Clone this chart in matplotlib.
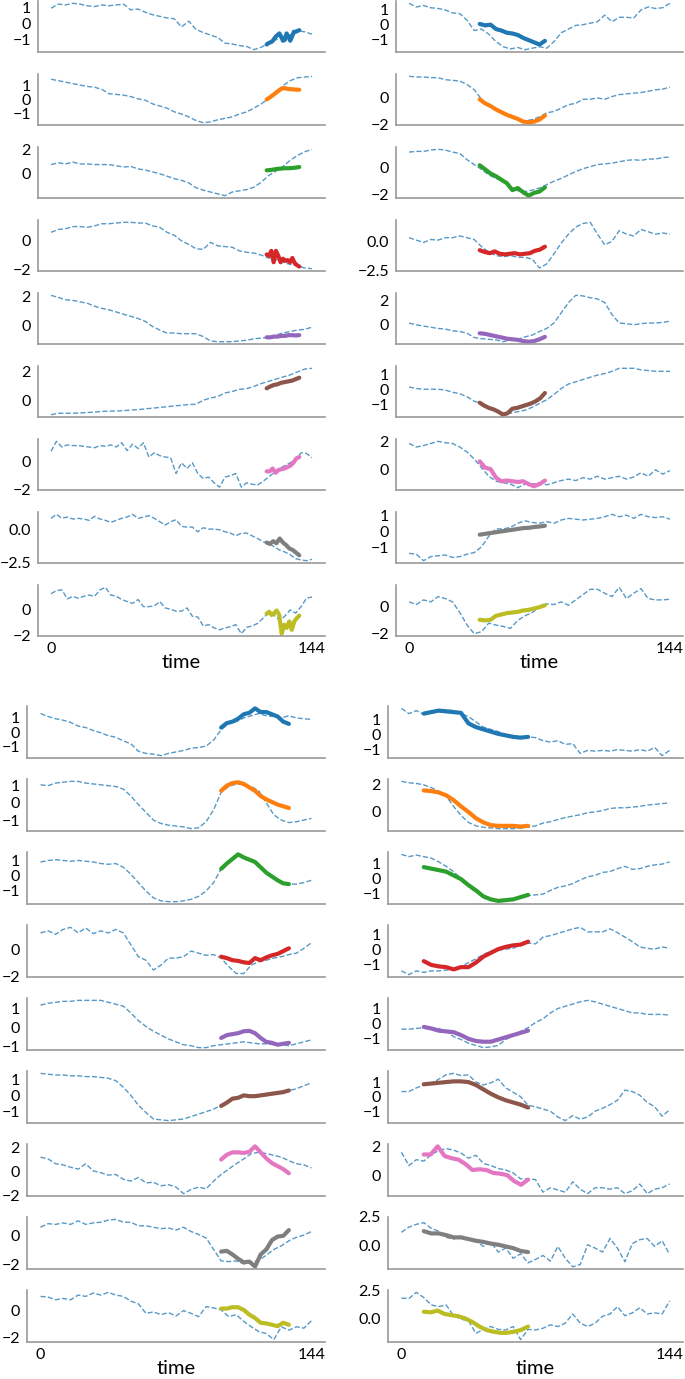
import numpy as np
import matplotlib
matplotlib.use("Agg")
import matplotlib.pyplot as plt

plt.rcParams['font.family'] = ['Lato', 'DejaVu Sans']

T_END = 144
SEG_COLORS = ['#1f77b4', '#ff7f0e', '#2ca02c', '#d62728', '#9467bd',
              '#8c564b', '#e377c2', '#7f7f7f', '#bcbd22']

# ---------------- top-left group ----------------
tl_series = [
    [0.95,1.2,1.15,1.25,1.2,1.1,1.05,1.15,1.1,1.15,1.2,0.85,0.9,0.7,0.55,0.45,0.35,0.3,-0.2,0.15,-0.35,-0.55,-0.7,-0.85,-1.2,-1.25,-1.35,-1.4,-1.6,-1.45,-1.2,-1.0,-0.8,-0.7,-0.45,-0.5,-0.65],
    [1.4,1.3,1.2,1.1,1.0,0.9,0.85,0.7,0.4,0.35,0.3,0.2,0.05,-0.05,-0.3,-0.45,-0.6,-0.85,-1.0,-1.2,-1.45,-1.6,-1.55,-1.4,-1.3,-1.2,-1.0,-0.85,-0.6,-0.3,0.05,0.5,0.95,1.3,1.5,1.55,1.6],
    [0.75,0.9,0.8,0.95,0.8,0.8,0.75,0.75,0.75,0.65,0.55,0.6,0.4,0.3,0.15,0.0,-0.2,-0.4,-0.55,-0.75,-1.15,-1.35,-1.5,-1.65,-1.8,-1.5,-1.4,-1.3,-1.1,-0.7,-0.15,0.2,0.6,1.1,1.5,1.8,2.0],
    [0.6,0.8,0.85,1.0,1.0,0.95,1.05,1.2,1.2,1.25,1.3,1.3,1.25,1.25,1.05,0.95,0.6,0.4,0.0,-0.25,-0.55,-0.6,-0.1,-0.35,-0.4,-0.45,-0.7,-0.8,-0.85,-1.0,-1.2,-1.3,-1.5,-1.65,-1.75,-1.9,-1.95],
    [2.05,1.9,1.75,1.7,1.6,1.5,1.3,1.15,1.05,0.9,0.75,0.6,0.45,0.25,-0.1,-0.35,-0.55,-0.55,-0.6,-0.6,-0.6,-0.8,-1.1,-1.15,-1.15,-1.15,-1.1,-1.05,-0.95,-0.9,-0.85,-0.7,-0.55,-0.45,-0.35,-0.3,-0.15],
    [-1.0,-0.9,-0.9,-0.9,-0.88,-0.85,-0.82,-0.78,-0.75,-0.75,-0.72,-0.68,-0.65,-0.6,-0.55,-0.5,-0.45,-0.4,-0.35,-0.3,-0.28,0.0,0.15,0.25,0.5,0.6,0.75,0.8,0.95,1.15,1.3,1.45,1.6,1.75,1.95,2.15,2.2],
    [0.7,1.4,1.0,1.15,1.1,1.1,1.05,1.0,0.95,1.1,1.05,1.15,1.0,1.3,0.75,1.2,0.9,1.3,0.3,0.6,0.4,0.3,0.25,-0.85,-0.1,-0.5,-0.1,-0.85,-1.2,-1.1,-1.5,-1.8,-1.1,-1.0,-0.85,-1.8,-1.5,-1.6,-1.65,-1.4,-1.1,-0.8,-0.5,-0.3,-0.1,0.1,0.6,0.55,0.25],
    [0.8,1.1,0.8,0.9,0.75,0.8,0.75,0.65,0.95,0.75,0.65,0.5,0.65,0.8,0.9,1.1,0.8,0.9,1.0,0.8,0.55,0.3,0.55,0.7,0.2,0.15,0.15,-0.2,0.1,0.0,0.0,-0.05,-0.2,-0.3,-0.5,-0.3,-0.3,-0.5,-0.7,-0.95,-1.05,-1.3,-1.55,-1.7,-1.9,-2.2,-2.3,-2.35,-2.25],
    [1.25,1.5,1.55,0.85,1.05,0.9,1.05,1.15,1.05,1.55,1.75,1.15,1.05,0.8,0.65,0.5,0.8,0.25,0.25,0.3,0.65,0.15,0.05,-0.1,-0.1,0.15,-0.5,-0.55,-1.25,-1.15,-1.4,-1.55,-1.4,-1.3,-1.15,-1.85,-1.35,-1.25,-1.05,-0.65,-0.25,-0.4,-0.8,-0.5,0.0,-0.25,0.25,0.9,1.0],
]
tl_segments = [
    [-1.28,-1.2,-1.15,-1.1,-0.95,-0.8,-0.7,-0.6,-0.8,-1.05,-1.0,-0.6,-0.8,-1.05,-0.8,-0.5,-0.5,-0.45,-0.4],
    [0.0,0.08,0.17,0.26,0.35,0.45,0.55,0.65,0.72,0.78,0.78,0.75,0.72,0.72,0.7,0.7,0.68,0.68,0.67],
    [0.28,0.3,0.35,0.4,0.42,0.45,0.45,0.47,0.5,0.55],
    [-0.95,-1.05,-0.7,-1.5,-0.7,-1.05,-1.5,-1.25,-1.4,-1.35,-1.5,-1.2,-1.55,-1.7,-1.8],
    [-0.85,-0.85,-0.8,-0.8,-0.75,-0.75,-0.7,-0.7,-0.72,-0.7],
    [0.82,0.95,1.05,1.1,1.2,1.25,1.3,1.35,1.45,1.55],
    [-0.7,-0.7,-0.5,-0.8,-0.6,-0.55,-0.5,-0.4,-0.3,-0.1,0.2,0.3],
    [-1.0,-1.1,-0.9,-1.05,-0.7,-1.0,-1.2,-1.45,-1.55,-1.75,-1.95],
    [-0.3,-0.15,-0.4,-0.25,-0.05,-0.4,-1.85,-1.15,-1.4,-0.9,-1.55,-0.9,-0.65,-0.45],
]
tl_seg_span = (119, 137)
tl_yticks = [[-1,0,1],[-1,0,1],[0,2],[-2,0],[0,2],[0,2],[-2,0],[-2.5,0.0],[-2,0]]

# ---------------- top-right group ----------------
tr_series = [
    [1.45,1.2,1.3,1.15,1.1,1.0,0.8,0.75,0.3,-0.4,-0.3,-0.65,-1.15,-1.5,-1.65,-1.55,-1.7,-1.6,-1.5,-1.6,-1.15,-0.55,-0.3,-0.05,0.0,0.1,0.2,0.65,0.2,0.5,0.5,0.45,1.0,1.2,1.1,1.15,1.45],
    [1.6,1.55,1.55,1.5,1.5,1.35,1.3,1.25,1.0,0.6,-0.1,-0.55,-0.9,-1.2,-1.4,-1.6,-1.7,-1.6,-1.4,-1.1,-1.0,-0.75,-0.5,-0.4,-0.1,-0.1,0.0,-0.1,0.1,0.25,0.3,0.35,0.4,0.5,0.6,0.65,0.8],
    [1.1,1.15,1.15,1.25,1.3,1.25,1.1,1.0,0.55,0.2,-0.15,-0.55,-0.8,-1.0,-1.4,-1.7,-1.75,-1.65,-1.5,-1.25,-1.0,-0.8,-0.55,-0.3,-0.1,0.05,0.2,0.25,0.3,0.4,0.5,0.55,0.5,0.6,0.6,0.7,0.75],
    [0.3,0.1,-0.1,0.15,0.1,0.3,0.3,0.45,0.3,0.15,-0.45,-0.9,-1.2,-1.3,-1.2,-1.35,-1.35,-1.5,-2.25,-1.9,-1.05,-0.15,0.6,1.2,1.5,1.6,0.6,-0.3,0.0,0.9,0.6,0.45,1.0,0.8,0.6,0.7,0.6],
    [0.1,-0.05,-0.15,-0.25,-0.35,-0.4,-0.55,-0.6,-0.75,-1.1,-1.2,-1.25,-1.3,-1.45,-1.3,-1.25,-1.05,-0.9,-0.6,-0.35,0.1,0.95,1.8,2.4,2.35,2.2,2.1,1.8,0.8,0.1,0.05,-0.05,0.05,0.1,0.1,0.15,0.25],
    [0.15,0.05,0.0,0.0,0.0,-0.05,-0.2,-0.3,-0.5,-0.8,-0.95,-1.2,-1.4,-1.6,-1.6,-1.5,-1.4,-1.2,-0.95,-0.7,-0.35,0.05,0.35,0.5,0.65,0.8,0.95,1.05,1.2,1.4,1.4,1.4,1.3,1.25,1.2,1.2,1.2],
    [1.85,1.6,1.7,1.85,2.0,1.9,1.85,1.6,1.25,0.75,0.15,-0.45,-0.8,-0.9,-1.0,-1.25,-1.0,-1.0,-0.9,-1.05,-0.9,-0.75,-0.65,-0.75,-0.55,-0.65,-0.45,-0.65,-0.55,-0.45,-0.65,-0.5,-0.2,-0.45,0.0,-0.3,-0.05],
    [-1.35,-1.4,-1.8,-1.55,-1.5,-1.45,-1.6,-1.55,-1.4,-1.3,-0.95,-0.3,0.15,0.15,0.25,0.5,0.65,0.55,0.5,0.6,0.5,0.7,0.8,0.75,0.7,0.75,0.8,0.9,1.05,0.9,1.0,0.8,1.05,0.9,0.85,0.9,0.75],
    [0.35,0.15,0.5,0.35,0.75,0.6,0.35,-0.45,-1.4,-2.05,-1.9,-1.25,-1.4,-1.5,-1.65,-1.05,-0.7,-0.45,-0.05,0.2,0.15,0.35,0.1,0.5,0.9,1.3,1.3,1.0,0.75,1.45,0.6,1.0,1.35,0.6,0.5,0.5,0.55],
]
tr_segments = [
    [0.05,-0.05,0.0,-0.3,-0.4,-0.55,-0.6,-0.7,-0.9,-1.05,-1.2,-1.35,-1.1],
    [-0.1,-0.4,-0.6,-0.85,-1.05,-1.25,-1.4,-1.55,-1.75,-1.8,-1.75,-1.6,-1.3],
    [0.15,-0.15,-0.45,-0.65,-0.9,-1.15,-1.65,-1.5,-1.8,-2.05,-1.85,-1.75,-1.45],
    [-0.75,-0.9,-1.0,-0.85,-1.05,-1.1,-1.05,-1.0,-1.1,-1.05,-1.0,-0.8,-0.7,-0.45],
    [-0.75,-0.8,-0.9,-1.0,-1.1,-1.2,-1.25,-1.3,-1.4,-1.45,-1.4,-1.25,-1.05],
    [-0.9,-1.1,-1.25,-1.35,-1.5,-1.7,-1.6,-1.3,-1.25,-1.15,-1.05,-0.95,-0.8,-0.6,-0.25],
    [0.6,0.15,0.05,-0.55,-0.8,-0.75,-0.8,-0.85,-0.8,-1.0,-1.15,-1.0,-0.75],
    [-0.2,-0.15,-0.1,-0.05,0.0,0.05,0.1,0.15,0.2,0.22,0.27,0.3,0.35],
    [-1.0,-1.05,-1.0,-0.7,-0.6,-0.5,-0.45,-0.4,-0.3,-0.25,-0.15,-0.05,0.1],
]
tr_seg_span = (39, 75)
tr_yticks = [[-1,0,1],[-2,0],[-2,0],[-2.5,0.0],[0,2],[-1,0,1],[0,2],[-1,0,1],[-2,0]]

# ---------------- bottom-left group ----------------
bl_series = [
    [1.25,1.05,0.9,0.8,0.65,0.4,0.3,0.1,-0.05,-0.25,-0.35,-0.6,-0.8,-1.3,-1.45,-1.5,-1.6,-1.45,-1.35,-1.25,-1.1,-1.05,-0.95,-0.55,0.15,0.6,0.7,0.95,1.1,1.25,1.1,1.05,0.95,1.1,0.95,0.9,0.85],
    [1.05,1.0,1.15,1.2,1.25,1.25,1.15,1.1,1.05,1.0,0.95,0.8,0.4,-0.1,-0.55,-1.0,-1.2,-1.3,-1.35,-1.4,-1.5,-1.45,-1.1,-0.4,0.6,0.95,1.1,1.05,0.95,0.7,0.0,-0.7,-1.0,-1.15,-1.1,-1.0,-0.9],
    [0.9,1.0,1.05,1.0,0.95,1.0,0.95,0.9,0.8,0.75,0.8,0.55,0.1,-0.45,-1.0,-1.45,-1.65,-1.7,-1.7,-1.65,-1.55,-1.35,-1.0,-0.45,0.45,0.95,1.35,1.2,1.0,0.65,0.2,-0.1,-0.45,-0.55,-0.55,-0.45,-0.3],
    [1.15,1.3,1.05,1.4,1.55,1.15,1.5,1.1,1.3,1.15,1.4,1.15,0.3,-0.55,-0.8,-1.5,-1.15,-0.65,-0.65,-0.55,-0.15,-0.3,-0.45,-0.4,-0.65,-1.25,-1.75,-1.75,-1.15,-0.9,-0.8,-0.65,-0.55,-0.4,-0.3,0.05,0.45],
    [1.15,1.25,1.3,1.35,1.35,1.4,1.4,1.4,1.4,1.3,1.2,1.1,0.75,0.35,0.05,-0.2,-0.4,-0.6,-0.75,-0.9,-0.95,-1.05,-1.05,-0.95,-0.9,-0.85,-0.8,-0.75,-0.8,-0.85,-0.85,-0.9,-0.9,-0.95,-0.85,-0.75,-0.65],
    [1.35,1.3,1.25,1.25,1.2,1.2,1.15,1.15,1.1,1.05,0.9,0.5,0.0,-0.6,-1.05,-1.45,-1.5,-1.55,-1.5,-1.45,-1.3,-1.15,-1.0,-0.85,-0.6,-0.4,-0.2,-0.05,-0.05,-0.05,0.0,0.1,0.15,0.3,0.4,0.6,0.75],
    [1.2,1.05,0.65,0.55,0.35,0.2,0.65,0.05,-0.1,-0.3,-0.25,-0.65,-0.8,-0.5,-0.95,-0.9,-1.2,-1.1,-1.3,-1.85,-1.5,-1.3,-1.45,-0.8,-0.25,0.2,0.65,1.05,1.5,1.6,1.5,1.35,1.2,0.9,0.65,0.55,0.3],
    [0.6,0.85,0.8,0.9,0.8,1.05,0.8,0.9,0.95,1.1,1.15,0.95,0.95,0.7,0.7,0.6,0.5,0.55,0.4,0.6,0.3,0.1,-0.15,-0.95,-1.75,-1.8,-1.75,-1.95,-1.85,-1.7,-1.35,-0.95,-0.7,-0.35,-0.1,0.05,0.3],
    [1.05,1.0,0.8,0.9,0.8,1.15,1.05,1.3,1.15,1.35,1.15,1.05,0.7,0.5,-0.2,-0.1,-0.3,-0.15,-0.4,0.0,-0.2,-0.45,0.3,0.2,0.05,-0.45,-0.3,-0.8,-1.2,-1.55,-1.7,-2.15,-1.2,-1.45,-1.2,-1.3,-0.75],
]
bl_segments = [
    [0.3,0.6,0.7,0.9,1.2,1.3,1.6,1.35,1.35,1.2,1.05,0.7,0.55],
    [0.7,1.0,1.15,1.2,1.1,0.9,0.7,0.4,0.2,0.05,-0.1,-0.2,-0.3],
    [0.45,0.8,1.1,1.4,1.2,1.05,0.9,0.55,0.2,-0.05,-0.3,-0.5,-0.55],
    [-0.55,-0.65,-0.8,-0.85,-0.95,-1.0,-0.65,-0.8,-0.6,-0.45,-0.35,-0.15,0.05],
    [-0.55,-0.4,-0.35,-0.3,-0.2,-0.18,-0.3,-0.55,-0.75,-0.8,-0.9,-0.85,-0.8],
    [-0.65,-0.45,-0.2,-0.15,0.0,-0.05,-0.05,0.0,0.05,0.1,0.15,0.2,0.3],
    [1.0,1.4,1.6,1.6,1.55,1.65,2.1,1.6,1.1,0.7,0.45,0.2,-0.15],
    [-1.1,-1.05,-1.3,-1.6,-1.85,-1.8,-2.15,-1.3,-0.95,-0.3,-0.05,0.0,0.4],
    [0.15,0.15,0.25,0.25,0.05,-0.3,-0.55,-0.9,-0.95,-1.05,-1.15,-0.9,-1.05],
]
bl_seg_span = (96, 132)
bl_yticks = [[-1,0,1],[-1,0,1],[-1,0,1],[-2,0],[-1,0,1],[-1,0,1],[-2,0,2],[-2,0],[-2,0]]

# ---------------- bottom-right group ----------------
br_series = [
    [1.75,1.4,1.6,1.35,1.6,1.6,1.65,1.6,1.4,1.2,0.85,0.5,0.35,0.2,0.0,-0.1,-0.15,-0.15,-0.2,-0.4,-0.5,-0.4,-0.65,-0.6,-1.25,-1.05,-1.1,-1.05,-1.1,-1.0,-1.05,-1.1,-1.0,-1.1,-0.85,-1.4,-1.05],
    [2.2,2.1,2.05,1.95,1.75,1.5,1.15,0.4,-0.25,-0.75,-1.0,-1.1,-1.15,-1.2,-1.2,-1.2,-1.15,-1.1,-1.0,-0.8,-0.7,-0.55,-0.4,-0.3,-0.2,-0.05,0.0,0.1,0.25,0.3,0.3,0.35,0.4,0.5,0.55,0.6,0.65],
    [1.6,1.45,1.55,1.45,1.35,1.1,0.8,0.45,0.0,-0.55,-0.9,-1.2,-1.45,-1.55,-1.5,-1.4,-1.25,-1.15,-1.1,-1.05,-0.8,-0.6,-0.5,-0.35,-0.1,0.1,0.2,0.4,0.45,0.65,0.8,0.6,0.65,0.8,0.9,0.95,1.1],
    [-1.4,-1.65,-1.4,-1.5,-1.4,-1.4,-1.35,-1.3,-1.1,-0.85,-0.6,-0.3,-0.1,0.0,0.05,0.1,0.35,0.45,0.4,0.85,0.95,1.1,1.25,1.4,1.5,1.2,1.2,1.2,1.4,1.15,0.85,0.55,0.2,0.1,0.05,0.2,0.1],
    [-0.4,-0.4,-0.35,-0.3,-0.35,-0.35,-0.55,-0.9,-1.1,-1.35,-1.5,-1.65,-1.6,-1.5,-1.1,-0.85,-0.55,-0.3,0.05,0.3,0.7,1.0,1.15,1.3,1.45,1.55,1.45,1.3,1.15,1.0,0.85,0.7,0.7,0.6,0.6,0.6,0.55],
    [0.35,0.35,0.6,0.8,0.9,1.2,1.5,1.6,1.45,1.5,1.0,0.8,0.95,1.2,0.6,0.3,0.0,-0.6,-0.7,-0.85,-1.0,-1.4,-1.65,-1.3,-1.55,-1.4,-1.0,-0.8,-0.55,-0.25,0.45,0.35,0.1,-0.4,-0.7,-1.35,-0.9],
    [1.6,0.7,1.1,1.0,1.45,1.7,1.85,1.75,1.55,1.2,1.4,0.85,0.7,0.5,0.4,0.2,-0.2,-0.2,-0.25,-1.1,-0.8,-0.95,-1.1,-0.4,-0.9,-1.2,-0.8,-0.8,-0.9,-0.8,-1.2,-1.0,-0.55,-1.2,-0.9,-0.8,-0.55],
    [1.15,1.6,1.85,2.0,1.5,1.25,0.7,0.55,0.8,0.55,0.4,-0.1,0.3,-0.6,-0.25,-1.15,-0.75,-1.55,-1.25,-0.9,-1.4,-0.1,-1.15,-1.9,-1.7,0.05,-0.25,-0.6,0.6,-0.25,-1.45,0.15,0.5,0.6,-0.1,0.4,-0.8],
    [1.8,1.75,2.3,1.85,1.2,1.05,1.2,0.25,-0.05,-0.2,-1.3,-0.95,-0.7,-0.95,-1.0,-0.7,-1.85,-0.95,-1.0,-0.85,-0.55,-0.7,-0.4,0.4,-0.4,-0.7,-0.4,0.2,0.4,1.05,0.25,0.5,0.95,0.4,0.5,0.4,1.55],
]
br_segments = [
    [1.4,1.5,1.6,1.55,1.5,1.45,0.75,0.5,0.35,0.2,0.05,-0.05,-0.15,-0.2,-0.15],
    [1.55,1.5,1.4,1.2,0.85,0.4,0.0,-0.45,-0.75,-0.95,-1.0,-1.0,-1.0,-1.05,-1.0],
    [0.75,0.65,0.55,0.45,0.2,-0.05,-0.45,-0.8,-1.2,-1.4,-1.5,-1.45,-1.4,-1.25,-1.1],
    [-0.75,-1.0,-1.1,-1.15,-1.3,-1.15,-1.15,-0.85,-0.45,-0.2,0.05,0.2,0.3,0.35,0.55],
    [-0.25,-0.35,-0.5,-0.55,-0.6,-0.8,-1.05,-1.2,-1.25,-1.25,-1.1,-0.95,-0.8,-0.65,-0.5],
    [0.85,0.9,0.95,1.0,1.05,1.05,1.0,0.8,0.5,0.2,-0.05,-0.25,-0.4,-0.55,-0.75],
    [1.45,1.45,2.0,1.35,1.2,1.1,0.8,0.4,0.45,0.4,0.2,0.15,0.05,-0.35,-0.6,-0.25],
    [1.25,1.05,1.05,0.9,0.7,0.7,0.55,0.4,0.3,0.15,0.05,-0.1,-0.25,-0.5,-0.6],
    [0.6,0.55,0.7,0.4,0.3,0.2,0.0,-0.3,-0.7,-1.0,-1.15,-1.25,-1.25,-1.15,-1.0,-0.7],
]
br_seg_span = (12, 68)
br_yticks = [[-1,0,1],[0,2],[-1,0,1],[-1,0,1],[-1,0,1],[-1,0,1],[0,2],[0.0,2.5],[0.0,2.5]]

x_ticks = [0, 144]
x_label = "time"

# layout (pixels): left, right, first row bottom, row step, row height
W, H = 685, 1379
groups = [
    (tl_series, tl_segments, tl_seg_span, tl_yticks, 38, 325, 52, 73, 51),
    (tr_series, tr_segments, tr_seg_span, tr_yticks, 396, 683, 52, 73, 51),
    (bl_series, bl_segments, bl_seg_span, bl_yticks, 27, 325, 758, 73, 52),
    (br_series, br_segments, br_seg_span, br_yticks, 388, 683, 758, 73, 52),
]

fig = plt.figure(figsize=(W / 100, H / 100), dpi=100)
SPINE = '#9a9a9a'

for series, segs, span, yticks, xl, xr, b0, step, hgt in groups:
    n = len(series)
    for i in range(n):
        bottom_px = b0 + step * i
        ax = fig.add_axes([xl / W, 1 - bottom_px / H, (xr - xl) / W, hgt / H])
        y = np.array(series[i])
        x = np.linspace(0, T_END, len(y))
        ax.plot(x, y, linestyle='--', color='#1f77b4', alpha=0.75, lw=1.0)
        s = np.array(segs[i])
        xs = np.linspace(span[0], span[1], len(s))
        ax.plot(xs, s, color=SEG_COLORS[i], lw=3.0, solid_capstyle='round')
        for side in ('top', 'right'):
            ax.spines[side].set_visible(False)
        for side in ('left', 'bottom'):
            ax.spines[side].set_color(SPINE)
            ax.spines[side].set_linewidth(1.2)
        ax.set_yticks(yticks[i])
        ax.tick_params(axis='y', length=0, pad=5, labelsize=11.5)
        ax.tick_params(axis='x', length=0, pad=4, labelsize=11.5)
        if i == n - 1:
            ax.set_xticks(x_ticks)
            ax.set_xlabel(x_label, fontsize=14.5, labelpad=-1)
        else:
            ax.set_xticks([])

fig.savefig("out.png", dpi=100)
